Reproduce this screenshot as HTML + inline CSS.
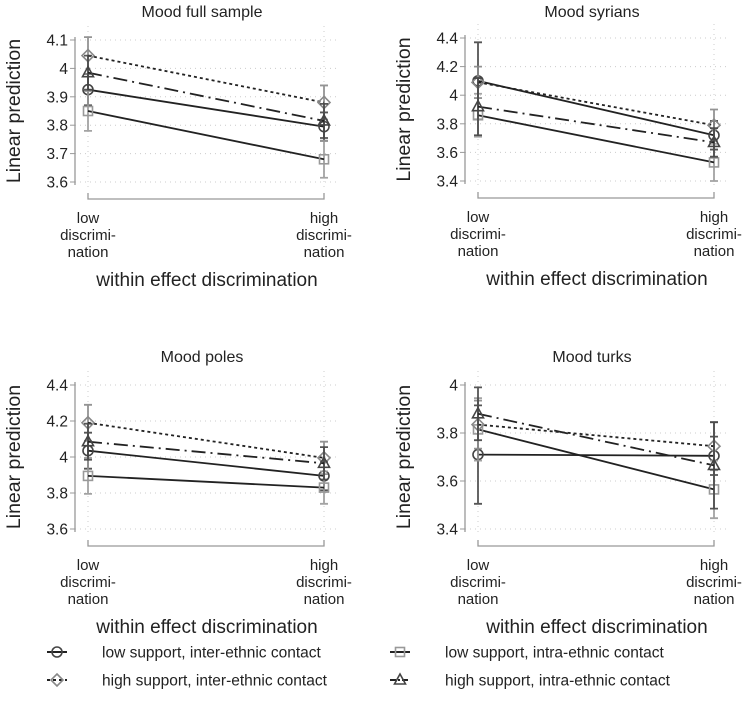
<!DOCTYPE html>
<html><head><meta charset="utf-8"><style>
body{margin:0;background:#fff;}
svg{display:block;font-family:"Liberation Sans",sans-serif;}
</style></head><body>
<svg id="c" width="750" height="720"></svg>
<script>
const categories = ["low\ndiscrimi-\nnation","high\ndiscrimi-\nnation"];
const seriesNames = ["low support, inter-ethnic contact","low support, intra-ethnic contact","high support, inter-ethnic contact","high support, intra-ethnic contact"];
const panelTitles = ["Mood full sample","Mood syrians","Mood poles","Mood turks"];
const ticks1 = [3.6,3.7,3.8,3.9,4,4.1];
const ticks2 = [3.4,3.6,3.8,4,4.2,4.4];
const ticks3 = [3.6,3.8,4,4.2,4.4];
const ticks4 = [3.4,3.6,3.8,4];
// values [low, high] per series: circle, square, diamond, triangle
const p1Circle=[3.925,3.795], p1Square=[3.85,3.68], p1Diamond=[4.045,3.88], p1Triangle=[3.985,3.815];
const p1Err=[[0.055,0.05],[0.07,0.065],[0.065,0.06],[0.06,0.06]];
const p2Circle=[4.10,3.72], p2Square=[3.86,3.53], p2Diamond=[4.09,3.79], p2Triangle=[3.92,3.67];
const p2Err=[[0.27,0.1],[0.15,0.13],[0.11,0.11],[0.2,0.1]];
const p3Circle=[4.035,3.895], p3Square=[3.895,3.83], p3Diamond=[4.19,3.995], p3Triangle=[4.085,3.965];
const p3Err=[[0.1,0.08],[0.1,0.09],[0.1,0.09],[0.1,0.09]];
const p4Circle=[3.71,3.705], p4Square=[3.815,3.565], p4Diamond=[3.835,3.745], p4Triangle=[3.88,3.665];
const p4Err=[[0.205,0.08],[0.13,0.12],[0.1,0.1],[0.11,0.18]];

const NS="http://www.w3.org/2000/svg";
const svg=document.getElementById('c');
function mk(tag,attrs,parent){const e=document.createElementNS(NS,tag);for(const k in attrs)e.setAttribute(k,attrs[k]);(parent||svg).appendChild(e);return e;}
const styles=[
 {line:"#222",dash:"",mk:"#444",kind:"circle"},
 {line:"#222",dash:"",mk:"#999",kind:"square"},
 {line:"#222",dash:"3,3",mk:"#888",kind:"diamond"},
 {line:"#222",dash:"14,5,2,5",mk:"#444",kind:"triangle"}];
function marker(g,kind,x,y,col){
 if(kind==="circle") return mk('circle',{cx:x,cy:y,r:5,fill:"none",stroke:col,"stroke-width":1.6},g);
 if(kind==="square") return mk('rect',{x:x-4.5,y:y-4.5,width:9,height:9,fill:"none",stroke:col,"stroke-width":1.6},g);
 if(kind==="diamond") return mk('polygon',{points:`${x},${y-6} ${x+6},${y} ${x},${y+6} ${x-6},${y}`,fill:"none",stroke:col,"stroke-width":1.6},g);
 return mk('polygon',{points:`${x},${y-6} ${x+5.5},${y+4} ${x-5.5},${y+4}`,fill:"none",stroke:col,"stroke-width":1.6},g);
}
function panel(idx,ox,oy,ticks,axX,yTop,yBot,data,err){
 const g=mk('g',{});
 
 
 const x0=ox+axX+13, x1=ox+axX+249;
 const tmin=ticks[0],tmax=ticks[ticks.length-1];
 const ys=v=>oy+yBot-(v-tmin)/(tmax-tmin)*(yBot-yTop);
 const xs=i=>i===0?x0:x1;
 const title=mk('text',{x:(x0+x1)/2-4,y:oy+17,"font-size":16,"text-anchor":"middle",fill:"#222"},g);title.textContent=panelTitles[idx];
 
 ticks.forEach(t=>{mk('line',{x1:ox+axX,x2:x1+15,y1:ys(t),y2:ys(t),stroke:"#ccc","stroke-dasharray":"1,4"},g);
  mk('line',{x1:ox+axX-5,x2:ox+axX,y1:ys(t),y2:ys(t),stroke:"#999"},g);
  const tl=mk('text',{x:ox+axX-7,y:ys(t)+5.5,"font-size":15.5,"text-anchor":"end",fill:"#222"},g);tl.textContent=String(t);
  });
 [0,1].forEach(i=>mk('line',{x1:xs(i),x2:xs(i),y1:oy+yTop-14,y2:oy+yBot+5,stroke:"#ccc","stroke-dasharray":"1,4"},g));
 mk('line',{x1:ox+axX,x2:ox+axX,y1:oy+yTop-3,y2:oy+yBot+3,stroke:"#999","stroke-width":1.3},g);
 const by=oy+yBot+17;
 mk('path',{d:`M${x0},${by-6}V${by}H${x1}V${by-6}`,fill:"none",stroke:"#999","stroke-width":1.3},g);
 categories.forEach((c,i)=>{c.split("\n").forEach((ln,j)=>{const t=mk('text',{x:xs(i),y:by+24+j*17,"font-size":15,"text-anchor":"middle",fill:"#222"},g);t.textContent=ln;
  });});
 const xt=mk('text',{x:(x0+x1)/2+1,y:by+87,"font-size":19,"text-anchor":"middle",fill:"#222"},g);xt.textContent="within effect discrimination";
 
 const yl=mk('text',{transform:`translate(${ox+axX-55},${oy+(yTop+yBot)/2}) rotate(-90)`,"font-size":19.5,"text-anchor":"middle",fill:"#222"},g);yl.textContent="Linear prediction";
 
 data.forEach((s,k)=>{const st=styles[k];
  s.forEach((v,i)=>{const e=err[k][i];
   const eb=mk('path',{d:`M${xs(i)},${ys(v-e)}V${ys(v+e)}M${xs(i)-4},${ys(v-e)}h8M${xs(i)-4},${ys(v+e)}h8`,stroke:st.mk,"stroke-width":1.8,fill:"none",opacity:0.9},g);
   });
  const ln=mk('line',{x1:xs(0),y1:ys(s[0]),x2:xs(1),y2:ys(s[1]),stroke:st.line,"stroke-width":1.8,"stroke-dasharray":st.dash},g);
  
  s.forEach((v,i)=>{const m=marker(g,st.kind,xs(i),ys(v),st.mk);
   });
 });
}
panel(0,0,0,ticks1,75,40,182,[p1Circle,p1Square,p1Diamond,p1Triangle],p1Err);
panel(1,375,0,ticks2,90,38,181,[p2Circle,p2Square,p2Diamond,p2Triangle],p2Err);
panel(2,0,345,ticks3,75,40,184,[p3Circle,p3Square,p3Diamond,p3Triangle],p3Err);
panel(3,375,345,ticks4,90,40,184,[p4Circle,p4Square,p4Diamond,p4Triangle],p4Err);
const lg=mk('g',{});


const lpos=[[57,652],[400,652],[57,680],[400,680]];
seriesNames.forEach((n,k)=>{const [x,y]=lpos[k];const st=styles[k];
 const e=mk('g',{},lg);
 
 
 mk('line',{x1:x-10,x2:x+10,y1:y,y2:y,stroke:"#222","stroke-width":2,"stroke-dasharray":k===2?"3,3":(k===3?"6,2,2,2":"")},e);
 marker(e,st.kind,x,y,st.mk);
 const t=mk('text',{x:x+45,y:y+5.5,"font-size":15.5,fill:"#222"},e);t.textContent=n;
});
</script>
</body></html>
